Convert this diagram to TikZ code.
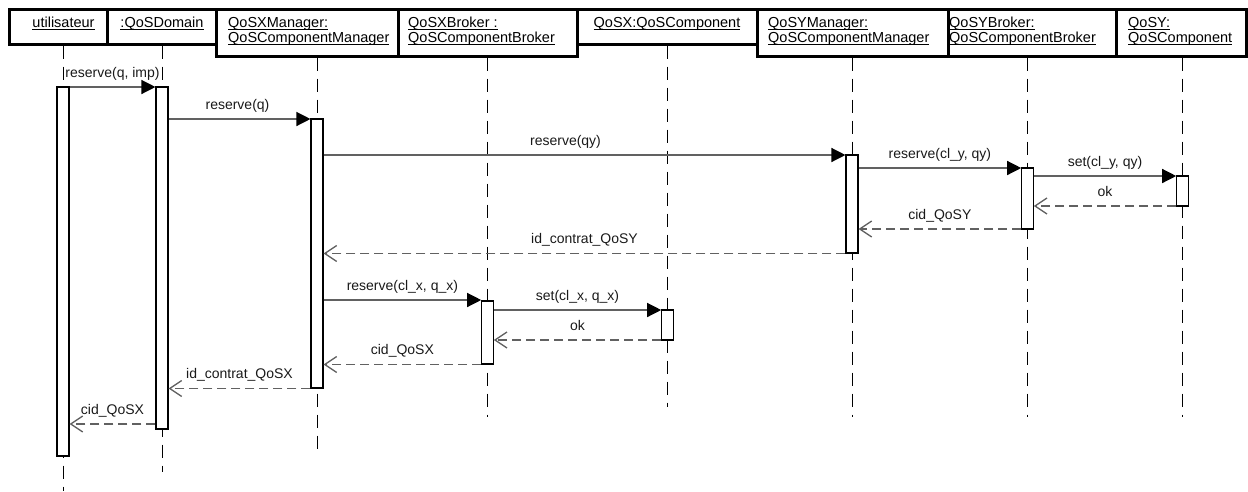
\documentclass[tikz,border=0pt]{standalone}
\usepackage{fontspec}
\setmainfont{Liberation Sans}
\usetikzlibrary{arrows.meta}
\newcommand\myul[1]{\setbox0=\hbox{#1}\rlap{\vrule height -1.8pt depth 2.8pt width \wd0}\box0}
\begin{document}
\begin{tikzpicture}[x=1pt,y=-1pt,
  obj/.style={draw=black, line width=3pt, inner sep=0pt},
  objtext/.style={font=\fontsize{14.5}{15}\selectfont, inner sep=0pt, anchor=base west},
  lifeline/.style={draw=black, line width=1pt, dash pattern=on 13pt off 8pt},
  act/.style={draw=black, fill=white, line width=1.1pt, minimum width=12pt, inner sep=0pt},
  call/.style={draw=black!62, line width=1.3pt, -{Triangle[length=14pt,width=14pt,color=black]}},
  ret/.style={draw=black!62, line width=1.3pt, dash pattern=on 9pt off 5pt, -{Straight Barb[length=12pt,width=16pt]}},
  lbl/.style={font=\fontsize{14}{16}\selectfont, inner sep=0pt, anchor=base, text=black!90, midway, yshift=10pt}
]
\useasboundingbox (0,0) rectangle (1248,491);

% object names
\node[objtext, anchor=base] (uT) at (63.5,27.5) {\myul{utilisateur}};
\node[objtext, anchor=base] (dT) at (162,27.5) {\myul{:QoSDomain}};
\node[objtext] (xmT1) at (228,27.5) {\myul{QoSXManager:}};
\node[objtext] (xmT2) at (228,42.5) {\myul{QoSComponentManager}};
\node[objtext] (xbT1) at (408,27.5) {\myul{QoSXBroker :}};
\node[objtext] (xbT2) at (408,42.5) {\myul{QoSComponentBroker}};
\node[objtext, anchor=base] (xcT) at (667,27.5) {\myul{QoSX:QoSComponent}};
\node[objtext] (ymT1) at (768,27.5) {\myul{QoSYManager:}};
\node[objtext] (ymT2) at (768,42.5) {\myul{QoSComponentManager}};
\node[objtext] (ybT1) at (949,27.5) {\myul{QoSYBroker:}};
\node[objtext] (ybT2) at (949,42.5) {\myul{QoSComponentBroker}};
\node[objtext] (ycT1) at (1128,27.5) {\myul{QoSY:}};
\node[objtext] (ycT2) at (1128,42.5) {\myul{QoSComponent}};

% object boxes
\path
  node[obj, minimum width=97.5pt, minimum height=34.5pt] (uB) at (58.25,26.75) {}
  node[obj, minimum width=109.5pt, minimum height=34.5pt] (dB) at (161.75,26.75) {}
  node[obj, minimum width=180pt, minimum height=34.5pt] (xcB) at (667,26.75) {}
  node[obj, minimum width=181.5pt, minimum height=46.5pt] (xmB) at (307.25,32.75) {}
  node[obj, minimum width=179pt, minimum height=46.5pt] (xbB) at (487.5,32.75) {}
  node[obj, minimum width=191pt, minimum height=46.5pt] (ymB) at (852.5,32.75) {}
  node[obj, minimum width=168pt, minimum height=46.5pt] (ybB) at (1032,32.75) {}
  node[obj, minimum width=130.5pt, minimum height=46.5pt] (ycB) at (1181.25,32.75) {};

% lifeline ends
\coordinate (uEnd) at (63,491);
\coordinate (dEnd) at (162,472);
\coordinate (xmEnd) at (317,450);
\coordinate (xbEnd) at (487.5,417);
\coordinate (xcEnd) at (667.5,407);
\coordinate (ymEnd) at (852,417);
\coordinate (ybEnd) at (1027.5,417);
\coordinate (ycEnd) at (1182.5,417);

% lifelines
\draw[lifeline] (uB.south -| uEnd) -- (uEnd);
\draw[lifeline] (dB.south -| dEnd) -- (dEnd);
\draw[lifeline] (xmB.south -| xmEnd) -- (xmEnd);
\draw[lifeline] (xbB.south -| xbEnd) -- (xbEnd);
\draw[lifeline] (xcB.south -| xcEnd) -- (xcEnd);
\draw[lifeline] (ymB.south -| ymEnd) -- (ymEnd);
\draw[lifeline] (ybB.south -| ybEnd) -- (ybEnd);
\draw[lifeline] (ycB.south -| ycEnd) -- (ycEnd);

% activation bars
\node[act, minimum height=369pt] (uA) at (63,271.5) {};
\node[act, minimum height=342pt] (dA) at (162,258) {};
\node[act, minimum height=269pt] (xmA) at (317,253.5) {};
\node[act, minimum height=63pt, minimum width=11.5pt] (xbA) at (487.5,332.5) {};
\node[act, minimum height=30pt, minimum width=11.5pt] (xcA) at (667.5,325) {};
\node[act, minimum height=98pt] (ymA) at (852,204) {};
\node[act, minimum height=61pt, minimum width=11.5pt] (ybA) at (1027.5,198.5) {};
\node[act, minimum height=30pt, minimum width=11.5pt] (ycA) at (1182.5,191) {};

% message levels
\coordinate (m1) at (0,87);
\coordinate (m2) at (0,119);
\coordinate (m3) at (0,155);
\coordinate (m4) at (0,168);
\coordinate (m5) at (0,176);
\coordinate (m6) at (0,206);
\coordinate (m7) at (0,229);
\coordinate (m8) at (0,253.5);
\coordinate (m9) at (0,300);
\coordinate (m10) at (0,310);
\coordinate (m11) at (0,340);
\coordinate (m12) at (0,364.5);
\coordinate (m13) at (0,388.5);
\coordinate (m14) at (0,424);

% messages
\draw[call] (uA.east |- m1) -- node[lbl] (l1) {reserve(q, imp)} (dA.west |- m1);
\draw[call] (dA.east |- m2) -- node[lbl, xshift=-2pt] (l2) {reserve(q)} (xmA.west |- m2);
\draw[call] (xmA.east |- m3) -- node[lbl, xshift=-19pt] (l3) {reserve(qy)} (ymA.west |- m3);
\draw[call] (ymA.east |- m4) -- node[lbl] (l4) {reserve(cl\_y, qy)} (ybA.west |- m4);
\draw[call] (ybA.east |- m5) -- node[lbl] (l5) {set(cl\_y, qy)} (ycA.west |- m5);
\draw[ret] (ycA.west |- m6) -- node[lbl] (l6) {ok} (ybA.east |- m6);
\draw[ret] (ybA.west |- m7) -- node[lbl] (l7) {cid\_QoSY} (ymA.east |- m7);
\draw[ret] (ymA.west |- m8) -- node[lbl] (l8) {id\_contrat\_QoSY} (xmA.east |- m8);
\draw[call] (xmA.east |- m9) -- node[lbl] (l9) {reserve(cl\_x, q\_x)} (xbA.west |- m9);
\draw[call] (xbA.east |- m10) -- node[lbl] (l10) {set(cl\_x, q\_x)} (xcA.west |- m10);
\draw[ret] (xcA.west |- m11) -- node[lbl] (l11) {ok} (xbA.east |- m11);
\draw[ret] (xbA.west |- m12) -- node[lbl] (l12) {cid\_QoSX} (xmA.east |- m12);
\draw[ret] (xmA.west |- m13) -- node[lbl] (l13) {id\_contrat\_QoSX} (dA.east |- m13);
\draw[ret] (dA.west |- m14) -- node[lbl] (l14) {cid\_QoSX} (uA.east |- m14);
\end{tikzpicture}
\end{document}
